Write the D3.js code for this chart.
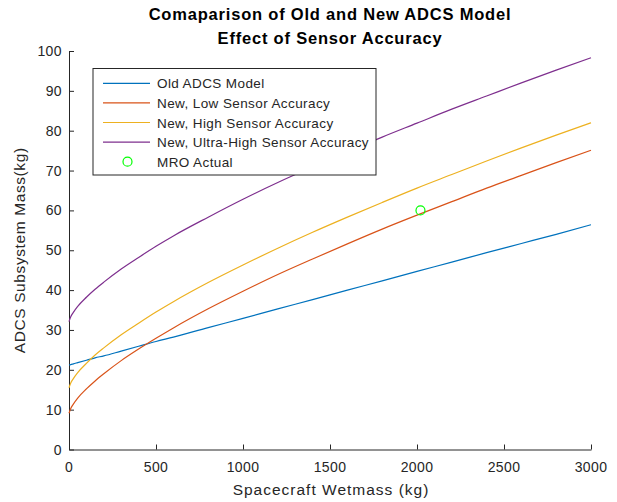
<!DOCTYPE html>
<html>
<head>
<meta charset="utf-8">
<script src="https://cdn.jsdelivr.net/npm/d3@7"></script>
<style>
  body { margin: 0; background: #fff; }
  svg { display: block; font-family: "Liberation Sans", Arial, sans-serif; }
</style>
</head>
<body>
<svg></svg>
<script>
const width = 617;
const height = 502;

/* -------------------------
   DATA
--------------------------*/
const wetmass = [0, 10, 25, 50, 100, 150, 200, 300, 400, 500, 600, 800, 1000,
  1200, 1400, 1600, 1800, 2000, 2200, 2400, 2600, 2800, 3000];

const oldModel = [21.2, 21.3, 21.5, 21.8, 22.4, 23.0, 23.5, 24.7, 25.9, 27.1, 28.2, 30.6, 32.9,
  35.3, 37.6, 40.0, 42.3, 44.7, 47.0, 49.4, 51.7, 54.0, 56.4];
const lowAcc = [9.1, 10.3, 11.4, 12.9, 15.2, 17.2, 19.0, 22.3, 25.2, 27.9, 30.5, 35.3, 39.7,
  43.9, 47.8, 51.6, 55.3, 58.8, 62.2, 65.6, 68.8, 72.0, 75.1];
const highAcc = [15.5, 16.7, 17.8, 19.3, 21.6, 23.7, 25.5, 28.8, 31.7, 34.5, 37.1, 41.9, 46.3,
  50.5, 54.5, 58.3, 62.0, 65.6, 69.0, 72.4, 75.7, 78.9, 82.0];
const ultraAcc = [32.1, 33.3, 34.4, 35.9, 38.2, 40.2, 42.0, 45.3, 48.2, 51.0, 53.6, 58.3, 62.8,
  67.0, 70.9, 74.7, 78.4, 81.9, 85.4, 88.7, 92.0, 95.2, 98.3];

const mroActual = [{ x: 2020, y: 60 }];

const seriesNames = ["Old ADCS Model", "New, Low Sensor Accuracy",
  "New, High Sensor Accuracy", "New, Ultra-High Sensor Accuracy"];
const seriesValues = [oldModel, lowAcc, highAcc, ultraAcc];
const COLORS = ["#0072BD", "#D95319", "#EDB120", "#7E2F8E"];

const xTicks = [0, 500, 1000, 1500, 2000, 2500, 3000];
const yTicks = [0, 10, 20, 30, 40, 50, 60, 70, 80, 90, 100];

/* -------------------------
   SCALES
--------------------------*/
const x = d3.scaleLinear().domain([0, 3000]).range([69, 591]);
const y = d3.scaleLinear().domain([0, 100]).range([449.5, 51]);

const svg = d3.select("svg")
  .attr("width", width)
  .attr("height", height);

const AX = "#262626";

/* -------------------------
   TITLE
--------------------------*/
const titleLines = ["Comaparison of Old and New ADCS Model", "Effect of Sensor Accuracy"];
svg.append("g").selectAll("text")
  .data(titleLines).enter().append("text")
  .attr("x", 330).attr("y", (d, i) => 19.5 + i * 24)
  .attr("text-anchor", "middle")
  .style("font-size", "16.5px").style("font-weight", "bold")
  .style("letter-spacing", "0.8px")
  .attr("fill", "#000")
  .text(d => d);

/* -------------------------
   AXES (ticks inward, box off)
--------------------------*/
const xAxis = svg.append("g")
  .attr("transform", `translate(0,${y(0)})`)
  .call(d3.axisTop(x).tickValues(xTicks).tickSize(5).tickSizeOuter(0));
xAxis.selectAll("text").remove();
xAxis.selectAll("line, path").attr("stroke", AX);

svg.append("g").selectAll("text")
  .data(xTicks).enter().append("text")
  .attr("x", d => x(d)).attr("y", 472)
  .attr("text-anchor", "middle")
  .style("font-size", "14px").style("letter-spacing", "0.4px")
  .attr("fill", AX)
  .text(d => d);

const yAxis = svg.append("g")
  .attr("transform", `translate(${x(0)},0)`)
  .call(d3.axisRight(y).tickValues(yTicks).tickSize(5).tickSizeOuter(0));
yAxis.selectAll("text").remove();
yAxis.selectAll("line, path").attr("stroke", AX);

svg.append("g").selectAll("text")
  .data(yTicks).enter().append("text")
  .attr("x", 62).attr("y", d => y(d) + 5)
  .attr("text-anchor", "end")
  .style("font-size", "14px").style("letter-spacing", "0.4px")
  .attr("fill", AX)
  .text(d => d);

svg.append("text")
  .attr("x", 331).attr("y", 494.5)
  .attr("text-anchor", "middle")
  .style("font-size", "15.5px").style("letter-spacing", "1px")
  .attr("fill", AX)
  .text("Spacecraft Wetmass (kg)");

svg.append("text")
  .attr("transform", `translate(25,${y(50)}) rotate(-90)`)
  .attr("text-anchor", "middle")
  .style("font-size", "15.5px").style("letter-spacing", "0.6px")
  .attr("fill", AX)
  .text("ADCS Subsystem Mass(kg)");

/* -------------------------
   LINES
--------------------------*/
const line = d3.line()
  .x((d, i) => x(wetmass[i]))
  .y(d => y(d))
  .curve(d3.curveMonotoneX);

svg.append("g").selectAll("path")
  .data(seriesValues).enter().append("path")
  .attr("d", line)
  .attr("fill", "none")
  .attr("stroke", (d, i) => COLORS[i])
  .attr("stroke-width", 1.2);

svg.append("g").selectAll("circle")
  .data(mroActual).enter().append("circle")
  .attr("cx", d => x(d.x)).attr("cy", d => y(d.y))
  .attr("r", 4.5)
  .attr("fill", "none")
  .attr("stroke", "#00FF00")
  .attr("stroke-width", 1.2);

/* -------------------------
   LEGEND
--------------------------*/
const legend = svg.append("g");
legend.append("rect")
  .attr("x", 93).attr("y", 68.5)
  .attr("width", 283).attr("height", 106.5)
  .attr("fill", "#fff").attr("stroke", AX).attr("stroke-width", 1);

const rowY = i => 83.3 + i * 19.6;

seriesNames.forEach((name, i) => {
  legend.append("line")
    .attr("x1", 103).attr("x2", 150)
    .attr("y1", rowY(i)).attr("y2", rowY(i))
    .attr("stroke", COLORS[i]).attr("stroke-width", 1.2);
  legend.append("text")
    .attr("x", 157).attr("y", rowY(i) + 5)
    .style("font-size", "13.5px").style("letter-spacing", "0.4px")
    .attr("fill", AX)
    .text(name);
});

legend.append("circle")
  .attr("cx", 127.5).attr("cy", rowY(4))
  .attr("r", 4.5)
  .attr("fill", "none").attr("stroke", "#00FF00").attr("stroke-width", 1.2);
legend.append("text")
  .attr("x", 157).attr("y", rowY(4) + 5)
  .style("font-size", "13.5px").style("letter-spacing", "0.4px")
  .attr("fill", AX)
  .text("MRO Actual");
</script>
</body>
</html>
